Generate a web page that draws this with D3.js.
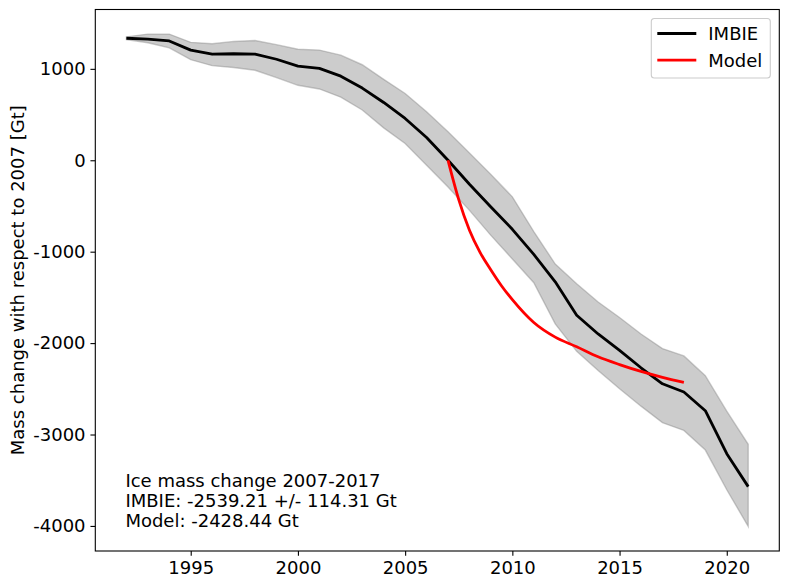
<!DOCTYPE html>
<html>
<head>
<meta charset="utf-8">
<script src="https://cdn.jsdelivr.net/npm/d3@7"></script>
<style>
  body { margin: 0; background: #fff; }
</style>
</head>
<body>
<script>
// IMBIE yearly values (Gt, relative to 2007) and the uncertainty band
const years = [1992, 1993, 1994, 1995, 1996, 1997, 1998, 1999, 2000, 2001,
               2002, 2003, 2004, 2005, 2006, 2007, 2008, 2009, 2010, 2011,
               2012, 2013, 2014, 2015, 2016, 2017, 2018, 2019, 2020, 2021];
const imbie = [1335, 1325, 1305, 1205, 1160, 1165, 1160, 1105, 1030, 1005,
               920, 790, 632, 457, 249, 0, -262, -512, -755, -1030,
               -1330, -1695, -1900, -2080, -2270, -2445, -2535, -2740, -3210, -3570];
const imbieUpper = [1350, 1380, 1380, 1290, 1275, 1300, 1310, 1265, 1215, 1205,
                    1150, 1045, 885, 731, 530, 311, 80, -155, -400, -780,
                    -1135, -1350, -1550, -1720, -1900, -2060, -2140, -2357, -2745, -3107];
const imbieLower = [1320, 1285, 1230, 1100, 1035, 1015, 985, 905, 820, 780,
                    690, 550, 354, 183, -55, -292, -548, -822, -1080, -1340,
                    -1790, -2090, -2300, -2500, -2690, -2870, -2955, -3170, -3604, -4005];

// model run
const modelYears = [2007, 2007.5, 2008, 2008.5, 2009, 2009.5, 2010, 2011,
                    2012, 2013, 2014, 2015, 2016, 2017, 2018];
const modelMass = [0, -430, -765, -1010, -1200, -1375, -1525, -1775,
                   -1935, -2040, -2150, -2235, -2310, -2375, -2430];

const xTicks = [1995, 2000, 2005, 2010, 2015, 2020];
const yTicks = [1000, 0, -1000, -2000, -3000, -4000];
const legendNames = ["IMBIE", "Model"];
const noteLines = ["Ice mass change 2007-2017",
                   "IMBIE: -2539.21 +/- 114.31 Gt",
                   "Model: -2428.44 Gt"];

let width = 789, height = 583;
let margin = {left: 95.3, right: 9.7, top: 9.5, bottom: 32};
const fontSize = 18;
const tickLen = 4.86;

// matplotlib style 5% padding around data
function padded(lo, hi) {
  const p = (hi - lo) * 0.05;
  return [lo - p, hi + p];
}

const x = d3.scaleLinear()
  .domain(padded(d3.min(years), d3.max(years)))
  .range([margin.left, width - margin.right]);
const y = d3.scaleLinear()
  .domain(padded(d3.min(imbieLower), d3.max(imbieUpper)))
  .range([height - margin.bottom, margin.top]);

const svg = d3.select("body").append("svg")
  .attr("width", width)
  .attr("height", height)
  .attr("font-family", "'DejaVu Sans', sans-serif")
  .attr("font-size", fontSize);

const band = years.map((yr, i) => ({yr: yr, lo: imbieLower[i], hi: imbieUpper[i]}));

svg.append("path")
  .datum(band)
  .attr("fill", "grey")
  .attr("fill-opacity", 0.4)
  .attr("stroke", "grey")
  .attr("stroke-opacity", 0.4)
  .attr("stroke-width", 1.4)
  .attr("d", d3.area()
    .x(d => x(d.yr))
    .y0(d => y(d.lo))
    .y1(d => y(d.hi)));

svg.append("path")
  .datum(years.map((yr, i) => [yr, imbie[i]]))
  .attr("fill", "none")
  .attr("stroke", "black")
  .attr("stroke-width", 2.8)
  .attr("stroke-linejoin", "round")
  .attr("d", d3.line().x(d => x(d[0])).y(d => y(d[1])));

svg.append("path")
  .datum(modelYears.map((yr, i) => [yr, modelMass[i]]))
  .attr("fill", "none")
  .attr("stroke", "red")
  .attr("stroke-width", 2.8)
  .attr("stroke-linejoin", "round")
  .attr("d", d3.line().curve(d3.curveMonotoneX).x(d => x(d[0])).y(d => y(d[1])));

// axes
const xAxis = svg.append("g")
  .attr("transform", `translate(0,${height - margin.bottom})`)
  .call(d3.axisBottom(x).tickValues(xTicks).tickFormat(d3.format("d"))
    .tickSize(tickLen).tickPadding(4.86));
const yAxis = svg.append("g")
  .attr("transform", `translate(${margin.left},0)`)
  .call(d3.axisLeft(y).tickValues(yTicks).tickFormat(d => String(d))
    .tickSize(tickLen).tickPadding(4.86));

[xAxis, yAxis].forEach(g => {
  g.select(".domain").remove();
  g.selectAll(".tick line").attr("stroke", "black").attr("stroke-width", 1.1);
  g.selectAll(".tick text")
    .attr("fill", "black")
    .attr("font-size", fontSize)
    .attr("font-family", "'DejaVu Sans', sans-serif");
});
xAxis.selectAll(".tick text").attr("dy", "0.76em");

// frame
svg.append("rect")
  .attr("x", margin.left)
  .attr("y", margin.top)
  .attr("width", width - margin.left - margin.right)
  .attr("height", height - margin.top - margin.bottom)
  .attr("fill", "none")
  .attr("stroke", "black")
  .attr("stroke-width", 1.1);

// y label
svg.append("text")
  .attr("transform", `translate(24,${(margin.top + height - margin.bottom) / 2}) rotate(-90)`)
  .attr("text-anchor", "middle")
  .text("Mass change with respect to 2007 [Gt]");

// note in lower left corner
const note = svg.append("text")
  .attr("x", x(1992) - 1)
  .attr("y", y(-4000) + 1 - 20 * (noteLines.length - 1));
note.selectAll("tspan")
  .data(noteLines)
  .join("tspan")
    .attr("x", x(1992) - 1)
    .attr("dy", (d, i) => i ? 20 : 0)
    .text(d => d);

// legend
const lg = svg.append("g")
  .attr("transform", `translate(${width - margin.right - 9 - 119},${margin.top + 9})`);
lg.append("rect")
  .attr("width", 119)
  .attr("height", 59.5)
  .attr("rx", 3)
  .attr("fill", "white")
  .attr("fill-opacity", 0.8)
  .attr("stroke", "#cccccc")
  .attr("stroke-width", 1.1);
const item = lg.selectAll("g")
  .data(legendNames)
  .join("g")
    .attr("transform", (d, i) => `translate(0,${15 + i * 26.7})`);
item.append("line")
  .attr("x1", 6).attr("x2", 45)
  .attr("stroke", (d, i) => i ? "red" : "black")
  .attr("stroke-width", 2.8);
item.append("text")
  .attr("x", 57)
  .attr("dy", "0.36em")
  .text(d => d);
</script>
</body>
</html>
